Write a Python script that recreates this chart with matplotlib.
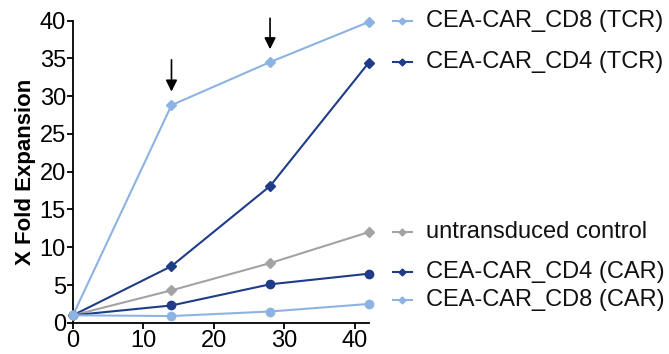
import numpy as np
import matplotlib.pyplot as plt

plt.rcParams['font.family'] = ['Liberation Sans', 'DejaVu Sans']

days = [0, 14, 28, 42]
cd8_tcr = [1.0, 28.8, 34.5, 39.8]
cd4_tcr = [1.0, 7.5, 18.1, 34.4]
untransduced = [1.0, 4.3, 7.9, 12.0]
cd4_car = [1.0, 2.3, 5.1, 6.5]
cd8_car = [1.0, 0.9, 1.5, 2.5]

labels = ['CEA-CAR_CD8 (TCR)', 'CEA-CAR_CD4 (TCR)', 'untransduced control',
          'CEA-CAR_CD4 (CAR)', 'CEA-CAR_CD8 (CAR)']

light = '#8db3e2'
dark = '#1f3c88'
grey = '#a3a3a3'

series = [
    (cd8_tcr, light, 'D', 40.0),
    (cd4_tcr, dark, 'D', 34.5),
    (untransduced, grey, 'D', 12.0),
    (cd4_car, dark, 'o', 6.7),
    (cd8_car, light, 'o', 3.0),
]

fig = plt.figure(figsize=(6.69, 3.54), dpi=100)
ax = fig.add_axes([0.109, 0.088, 0.442, 0.854])

for (vals, col, mk, ly), lab in zip(series, labels):
    ms = 5 if mk == 'D' else 6
    ax.plot(days, vals, color=col, lw=1.5, marker=mk, ms=ms, clip_on=False, zorder=3)
    ax.plot([45.5, 48.1], [ly, ly], color=col, lw=1.5, clip_on=False)
    ax.plot([46.8], [ly], color=col, marker='D', ms=3.5, clip_on=False)
    ax.text(50.2, ly, lab, fontsize=17, va='center', ha='left', color='#111111')

# arrows marking restimulation
for xa, y0, y1 in [(14, 34.8, 30.6), (28, 40.3, 36.2)]:
    ax.annotate('', xy=(xa, y1), xytext=(xa, y0),
                arrowprops=dict(arrowstyle='-|>', color='black', lw=1.2,
                                mutation_scale=17, shrinkA=0, shrinkB=0),
                annotation_clip=False)

ax.set_xlim(0, 42)
ax.set_ylim(0, 40)
ax.set_xticks([0, 10, 20, 30, 40])
ax.set_yticks(np.arange(0, 41, 5))
ax.spines['top'].set_visible(False)
ax.spines['right'].set_visible(False)
ax.spines['left'].set_linewidth(1.3)
ax.spines['bottom'].set_linewidth(1.3)
ax.tick_params(direction='out', length=4, width=1.3, labelsize=17, pad=1)
ax.set_ylabel('X Fold Expansion', fontsize=16, fontweight='bold', labelpad=3)

fig.savefig('out.png', dpi=100)
